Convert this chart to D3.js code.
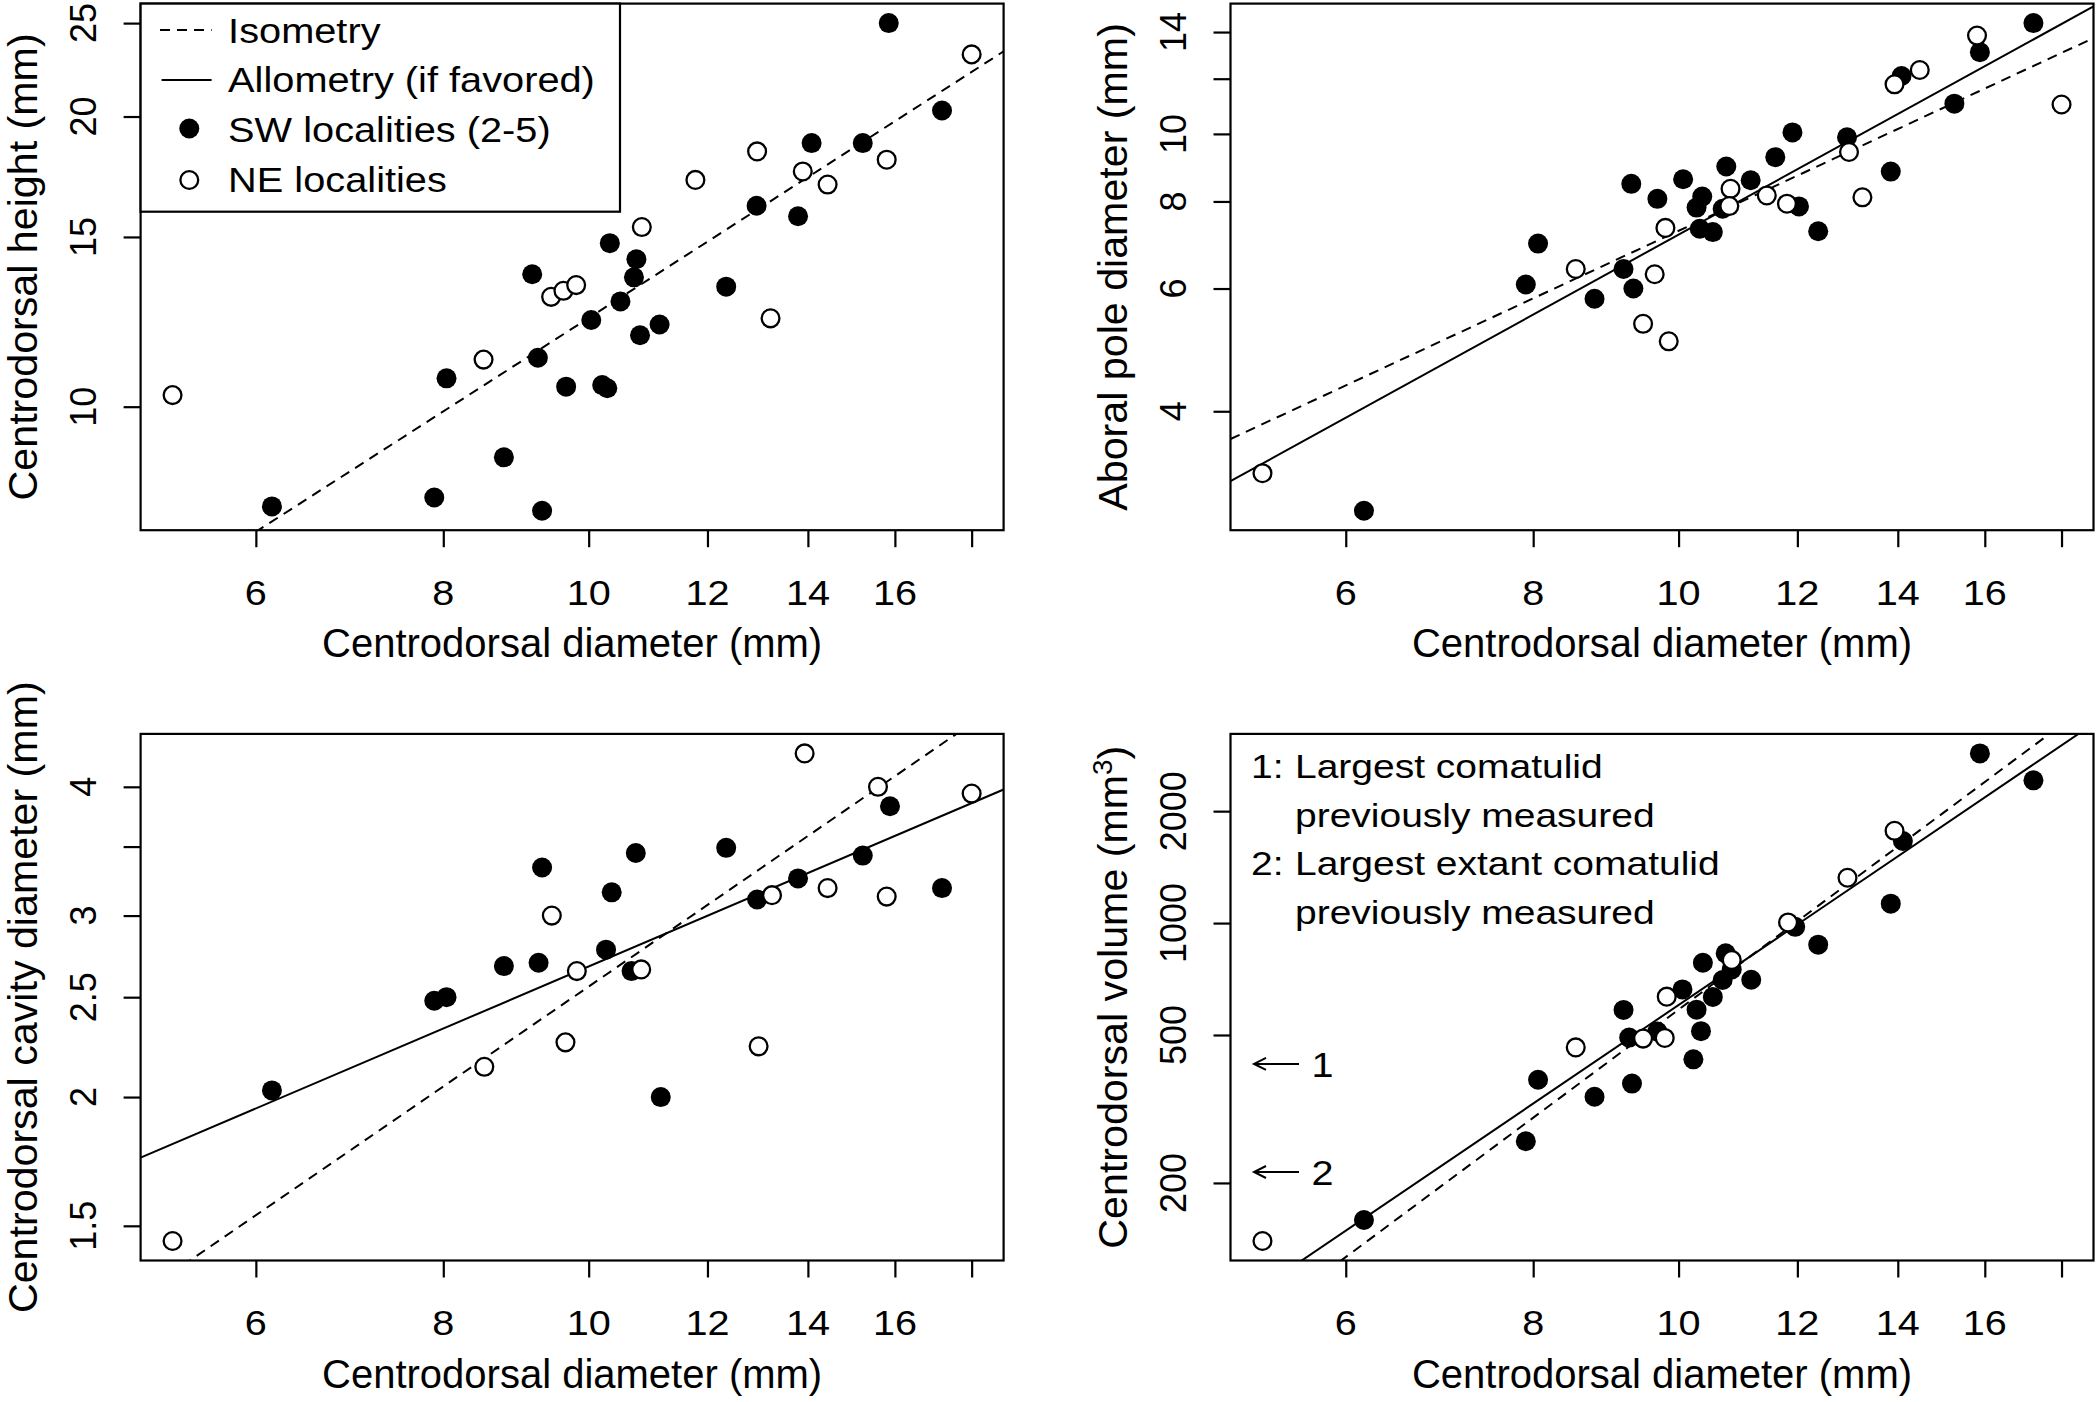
<!DOCTYPE html>
<html>
<head>
<meta charset="utf-8">
<script src="https://cdn.jsdelivr.net/npm/d3@7"></script>
<style>
body { margin: 0; background: #fff; }
text { font-family: "Liberation Sans", Arial, Helvetica, sans-serif; fill: #000; }
</style>
</head>
<body>
<div id="chart"></div>
<script>
// centrodorsal diameter (mm) is the x variable of every panel
var xTicks = [6, 8, 10, 12, 14, 16, 18];
var xTickLabels = ["6", "8", "10", "12", "14", "16", ""];

// [diameter, value]; SW = filled, NE = open
var heightSW = [[6.15,7.88],[7.89,8.05],[8.04,10.70],[8.78,8.86],[9.17,13.72],[9.25,11.24],[9.31,7.80],
  [9.66,10.49],[10.04,12.30],[10.21,10.53],[10.29,10.45],[10.33,14.78],[10.50,12.86],[10.72,13.62],
  [10.76,14.22],[10.82,11.86],[11.15,12.17],[12.35,13.32],[12.94,16.16],[13.79,15.76],[14.08,18.77],
  [15.23,18.77],[15.85,25.0],[17.20,20.29]];
var heightNE = [[5.28,10.28],[8.51,11.19],[9.44,13.00],[9.62,13.19],[9.81,13.37],[10.85,15.36],[11.78,17.19],
  [12.95,18.40],[13.22,12.35],[13.89,17.54],[14.43,17.00],[15.80,18.04],[18.0,23.2]];

var aboralSW = [[6.17,2.88],[7.91,6.08],[8.06,6.96],[8.79,5.80],[9.19,6.40],[9.30,8.48],[9.33,6.00],
  [9.68,8.07],[10.07,8.61],[10.28,7.84],[10.37,8.13],[10.33,7.31],[10.54,7.23],[10.70,7.81],[10.76,8.98],
  [11.17,8.58],[11.60,9.26],[11.91,10.05],[12.03,7.87],[12.39,7.25],[12.95,9.89],[13.85,8.83],[14.08,12.11],
  [15.27,11.05],[15.88,13.10],[17.24,14.42]];
var aboralNE = [[5.28,3.26],[8.54,6.40],[9.47,5.34],[9.64,6.29],[9.80,7.33],[9.85,5.04],[10.83,8.34],
  [10.81,7.88],[11.45,8.16],[11.81,7.94],[12.99,9.42],[13.26,8.11],[13.93,11.78],[14.48,12.35],
  [15.81,13.84],[18.0,11.02]];

var cavitySW = [[6.15,2.03],[7.89,2.48],[8.04,2.50],[8.78,2.68],[9.26,2.70],[9.31,3.34],[10.27,2.78],
  [10.36,3.16],[10.68,2.65],[10.75,3.45],[11.17,2.00],[12.35,3.49],[12.95,3.11],[13.79,3.26],[15.23,3.43],
  [15.88,3.83],[17.20,3.19]];
var cavityNE = [[5.28,1.45],[8.52,2.14],[9.45,3.00],[9.65,2.26],[9.82,2.65],[10.84,2.66],[12.98,2.24],
  [13.25,3.14],[13.93,4.31],[14.43,3.19],[15.59,4.00],[15.80,3.13],[18.0,3.94]];

var volumeSW = [[6.17,159],[7.91,259],[8.06,379],[8.79,341],[9.19,584],[9.27,492],[9.31,370],[9.68,511],
  [10.06,663],[10.23,430],[10.28,585],[10.35,512],[10.38,782],[10.54,633],[10.70,703],[10.75,829],
  [10.85,750],[11.18,704],[11.96,977],[12.39,875],[13.85,1128],[14.11,1662],[15.88,2860],[17.24,2421]];
var volumeNE = [[5.28,139.6],[8.54,463],[9.47,489],[9.79,491],[9.82,634],[10.85,796],[11.83,1004],
  [12.96,1324],[13.93,1771]];

// fitted power laws y = a * x^b
var heightIso = {a: 1.236, b: 1};
var aboralIso = {a: 0.726, b: 1}, aboralAllo = {a: 0.4693, b: 1.184};
var cavityIso = {a: 0.256, b: 1}, cavityAllo = {a: 0.6408, b: 0.621};
var volumeIso = {a: 0.585, b: 3}, volumeAllo = {a: 1.1056, b: 2.736};

// y axis ticks
var heightTicks = [10, 15, 20, 25], heightTickLabels = ["10", "15", "20", "25"];
var aboralTicks = [4, 6, 8, 10, 12, 14], aboralTickLabels = ["4", "6", "8", "10", "", "14"];
var cavityTicks = [1.5, 2, 2.5, 3, 3.5, 4], cavityTickLabels = ["1.5", "2", "2.5", "3", "", "4"];
var volumeTicks = [200, 500, 1000, 2000], volumeTickLabels = ["200", "500", "1000", "2000"];

// reference volumes marked by the arrows
var volumeRefs = [418, 214], volumeRefLabels = ["1", "2"];

var W = 2096, H = 1402;
var plotW = 863, plotH = 526.6;
var lw = 2.2;

var svg = d3.select("#chart").append("svg")
  .attr("width", W).attr("height", H);

// R style log limits: data range plus 4% on each side
function logLimits(vals) {
  var lo = Math.log(d3.min(vals)), hi = Math.log(d3.max(vals)), pad = 0.04 * (hi - lo);
  return [Math.exp(lo - pad), Math.exp(hi + pad)];
}

function label(g, txt, px, py, size, sx, rot, anchor) {
  return g.append("text")
    .attr("transform", "translate(" + px + "," + py + ") rotate(" + (rot || 0) + ") scale(" + sx + ",1)")
    .attr("text-anchor", anchor || "middle")
    .attr("font-size", size)
    .text(txt);
}

var xAll = [].concat(heightSW, heightNE, aboralSW, aboralNE, cavitySW, cavityNE, volumeSW, volumeNE)
  .map(d => d[0]);
var xlim = logLimits(xAll);

var panels = [
  {left: 140.6, top: 3.6, sw: heightSW, ne: heightNE, lines: [heightIso], yTicks: heightTicks,
   yTickLabels: heightTickLabels, ylab: "Centrodorsal height (mm)"},
  {left: 1230.5, top: 3.6, sw: aboralSW, ne: aboralNE, lines: [aboralIso, aboralAllo], yTicks: aboralTicks,
   yTickLabels: aboralTickLabels, ylab: "Aboral pole diameter (mm)"},
  {left: 140.6, top: 733.9, sw: cavitySW, ne: cavityNE, lines: [cavityIso, cavityAllo], yTicks: cavityTicks,
   yTickLabels: cavityTickLabels, ylab: "Centrodorsal cavity diameter (mm)"},
  {left: 1230.5, top: 733.9, sw: volumeSW, ne: volumeNE, lines: [volumeIso, volumeAllo], yTicks: volumeTicks,
   yTickLabels: volumeTickLabels, ylab: "Centrodorsal volume (mm"}
];

panels.forEach(function(p, i) {
  var g = svg.append("g");
  var bottom = p.top + plotH;

  var x = d3.scaleLog().domain(xlim).range([p.left, p.left + plotW]);
  var y = d3.scaleLog()
    .domain(logLimits(p.sw.concat(p.ne).map(d => d[1])))
    .range([bottom, p.top]);
  p.x = x; p.y = y; p.g = g;

  g.append("clipPath").attr("id", "clip" + i)
    .append("rect").attr("x", p.left).attr("y", p.top).attr("width", plotW).attr("height", plotH);

  // ticks only, labels drawn by hand below
  g.append("g")
    .attr("transform", "translate(0," + bottom + ")")
    .call(d3.axisBottom(x).tickValues(xTicks).tickSize(17).tickFormat(""))
    .call(a => a.select(".domain").remove())
    .call(a => a.selectAll("line").attr("stroke-width", lw));
  g.append("g")
    .attr("transform", "translate(" + p.left + ",0)")
    .call(d3.axisLeft(y).tickValues(p.yTicks).tickSize(17).tickFormat(""))
    .call(a => a.select(".domain").remove())
    .call(a => a.selectAll("line").attr("stroke-width", lw));

  xTicks.forEach(function(t, k) {
    label(g, xTickLabels[k], x(t), bottom + 74.5, 36, 1.1);
  });
  p.yTicks.forEach(function(t, k) {
    label(g, p.yTickLabels[k], p.left - 44.5, y(t), 36, 1.0, -90);
  });

  label(g, "Centrodorsal diameter (mm)", p.left + plotW / 2, bottom + 127, 40, 1.0);
  var yl = label(g, p.ylab, p.left - 104, p.top + plotH / 2, 40, 1.03, -90);
  if (i == 3) {
    yl.append("tspan").attr("font-size", 27).attr("dy", -15).text("3");
    yl.append("tspan").attr("dy", 15).text(")");
  }

  // isometry dashed, allometry solid
  var line = d3.line().x(d => x(d[0])).y(d => y(d[1]));
  p.lines.forEach(function(f, k) {
    g.append("path")
      .datum(xlim.map(d => [d, f.a * Math.pow(d, f.b)]))
      .attr("clip-path", "url(#clip" + i + ")")
      .attr("fill", "none")
      .attr("stroke", "#000")
      .attr("stroke-width", 2)
      .attr("stroke-dasharray", k == 0 ? "10,7" : null)
      .attr("d", line);
  });

  g.selectAll(".sw").data(p.sw).enter().append("circle")
    .attr("cx", d => x(d[0])).attr("cy", d => y(d[1]))
    .attr("r", 10).attr("fill", "#000");
  g.selectAll(".ne").data(p.ne).enter().append("circle")
    .attr("cx", d => x(d[0])).attr("cy", d => y(d[1]))
    .attr("r", 8.9).attr("fill", "#fff").attr("stroke", "#000").attr("stroke-width", 2.3);

  g.append("rect")
    .attr("x", p.left).attr("y", p.top).attr("width", plotW).attr("height", plotH)
    .attr("fill", "none").attr("stroke", "#000").attr("stroke-width", lw);
});

// legend, top left panel
var p0 = panels[0], lg = p0.g;
lg.append("rect")
  .attr("x", p0.left).attr("y", p0.top).attr("width", 479.4).attr("height", 208.1)
  .attr("fill", "#fff").attr("stroke", "#000").attr("stroke-width", lw);
lg.append("line").attr("x1", p0.left + 19.4).attr("x2", p0.left + 71).attr("y1", 30).attr("y2", 30)
  .attr("stroke", "#000").attr("stroke-width", 2).attr("stroke-dasharray", "10,7");
lg.append("line").attr("x1", p0.left + 21).attr("x2", p0.left + 71).attr("y1", 80).attr("y2", 80)
  .attr("stroke", "#000").attr("stroke-width", 2);
lg.append("circle").attr("cx", p0.left + 48.7).attr("cy", 128.5).attr("r", 10).attr("fill", "#000");
lg.append("circle").attr("cx", p0.left + 48.7).attr("cy", 180).attr("r", 8.9)
  .attr("fill", "#fff").attr("stroke", "#000").attr("stroke-width", 2.3);
["Isometry", "Allometry (if favored)", "SW localities (2-5)", "NE localities"].forEach(function(t, k) {
  label(lg, t, p0.left + 87.5, 42.7 + k * 49.7, 35.5, 1.12, 0, "start");
});

// notes and reference arrows, volume panel
var p3 = panels[3], ng = p3.g;
var notes = [["1:", "Largest comatulid"], ["", "previously measured"],
             ["2:", "Largest extant comatulid"], ["", "previously measured"]];
notes.forEach(function(n, k) {
  var by = p3.top + 44 + k * 48.6;
  if (n[0]) label(ng, n[0], p3.left + 20.5, by, 32.5, 1.2, 0, "start");
  label(ng, n[1], p3.left + 64.5, by, 32.5, 1.2, 0, "start");
});
volumeRefs.forEach(function(v, k) {
  var yy = p3.y(v), x1 = p3.left + 23.5, x2 = p3.left + 68.5;
  ng.append("path")
    .attr("d", "M" + x2 + "," + yy + "H" + x1 + "M" + (x1 + 12) + "," + (yy - 6) + "L" + x1 + "," + yy + "L" + (x1 + 12) + "," + (yy + 6))
    .attr("fill", "none").attr("stroke", "#000").attr("stroke-width", 2);
  label(ng, volumeRefLabels[k], p3.left + 92, yy + 13, 36, 1.1);
});
</script>
</body>
</html>
